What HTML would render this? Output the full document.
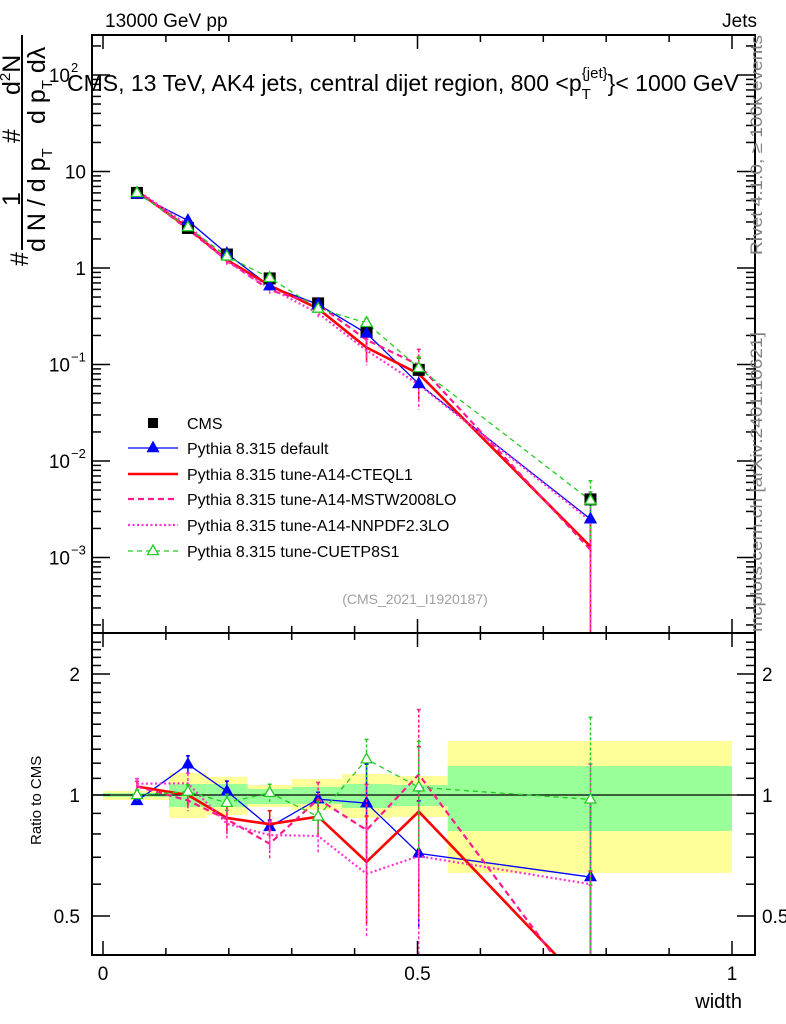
<!DOCTYPE html>
<html><head><meta charset="utf-8">
<style>
html,body{margin:0;padding:0;background:#fff;overflow:hidden;width:786px;height:1024px;}
svg{display:block;font-family:"Liberation Sans",sans-serif;}
</style></head>
<body>
<svg id="chart" width="786" height="1024" viewBox="0 0 786 1024" xmlns="http://www.w3.org/2000/svg">
<defs>
<clipPath id="clipMain"><rect x="92" y="35" width="663" height="598"/></clipPath>
<clipPath id="clipRatio"><rect x="92" y="633" width="663" height="322"/></clipPath>
</defs>
<g id="bands" clip-path="url(#clipRatio)"></g>
<g id="series-main" clip-path="url(#clipMain)"></g>
<g id="series-ratio" clip-path="url(#clipRatio)"></g>
<g id="axes"></g>
<text x="105" y="27" font-size="19">13000 GeV pp</text>
<text x="757" y="27" font-size="19" text-anchor="end">Jets</text>
<text x="67" y="91" font-size="23">CMS, 13 TeV, AK4 jets, central dijet region, 800 &lt;p<tspan font-size="15" dy="8">T</tspan><tspan font-size="15" dy="-21" dx="-9">{jet}</tspan><tspan dy="13">}&lt; 1000 GeV</tspan></text>
<text x="415" y="604" font-size="14" fill="#a0a0a0" text-anchor="middle">(CMS_2021_I1920187)</text>
<text transform="translate(762,255) rotate(-90)" font-size="16.5" fill="#808080" textLength="220" lengthAdjust="spacingAndGlyphs">Rivet 4.1.0, ≥ 100k events</text>
<text transform="translate(762,632) rotate(-90)" font-size="16.5" fill="#808080" textLength="300" lengthAdjust="spacingAndGlyphs">mcplots.cern.ch [arXiv:2401.10621]</text>
<g font-size="25">
<text transform="translate(28,266) rotate(-90)">#</text>
<text transform="translate(20,206) rotate(-90)">1</text>
<text transform="translate(20,143) rotate(-90)">#</text>
<text transform="translate(20,95) rotate(-90)">d<tspan font-size="15" dy="-10">2</tspan><tspan dy="10">N</tspan></text>
<line x1="22" y1="35" x2="22" y2="250" stroke="#000" stroke-width="2"/>
<text transform="translate(45,252) rotate(-90)">d N / d p<tspan font-size="15" dy="7">T</tspan></text>
<text transform="translate(45,124) rotate(-90)">d p<tspan font-size="15" dy="7">T</tspan><tspan dy="-7"> dλ</tspan></text>
</g>
<text transform="translate(41,845) rotate(-90)" font-size="15">Ratio to CMS</text>
<text x="742" y="1008" font-size="20" text-anchor="end">width</text>
<g id="legend"></g>
</svg>
<script>
const xCenters = [0.054, 0.135, 0.197, 0.265, 0.342, 0.419, 0.502, 0.775];
const cmsValues = [6.0, 2.6, 1.38, 0.78, 0.43, 0.22, 0.088, 0.0040];
const defaultValues = [5.8, 3.1, 1.41, 0.65, 0.42, 0.21, 0.063, 0.0025];
const cteqValues = [6.3, 2.6, 1.21, 0.66, 0.38, 0.15, 0.080, 0.0013];
const mstwValues = [6.3, 2.52, 1.2, 0.59, 0.42, 0.18, 0.099, 0.0012];
const nnpdfValues = [6.4, 2.78, 1.17, 0.62, 0.34, 0.14, 0.062, 0.0024];
const cuetValues = [6.0, 2.65, 1.32, 0.79, 0.38, 0.27, 0.092, 0.0039];
const defaultErr = [0.02, 0.05, 0.06, 0.04, 0.04, 0.25, 0.35, 0.6];
const mcErr = [0.03, 0.06, 0.08, 0.08, 0.1, 0.3, 0.45, 0.99];
const cuetErr = [0.03, 0.04, 0.05, 0.05, 0.09, 0.12, 0.3, 0.6];
const binEdges = [0, 0.105, 0.165, 0.23, 0.30, 0.38, 0.46, 0.548, 1.0];
const yellowUp = [1.023, 1.134, 1.11, 1.059, 1.096, 1.128, 1.115, 1.363];
const yellowDn = [0.972, 0.877, 0.892, 0.934, 0.918, 0.877, 0.882, 0.64];
const greenUp = [1.011, 1.065, 1.065, 1.035, 1.047, 1.065, 1.059, 1.18];
const greenDn = [0.989, 0.934, 0.934, 0.95, 0.95, 0.928, 0.939, 0.814];
const mainTicks = [{v:100,l:"10",e:"2"},{v:10,l:"10",e:""},{v:1,l:"1",e:""},{v:0.1,l:"10",e:"−1"},{v:0.01,l:"10",e:"−2"},{v:0.001,l:"10",e:"−3"}];
const ratioTicks = [2, 1, 0.5];
const xTickLabels = [0, 0.5, 1];

const NS = "http://www.w3.org/2000/svg";
const X = v => 103 + 629 * v;
const YM = v => 268 - 96.5 * Math.log10(v);
const YR = r => 795 - 121 * Math.log2(r);
function mk(tag, attrs, parent) {
  const e = document.createElementNS(NS, tag);
  for (const k in attrs) e.setAttribute(k, attrs[k]);
  parent.appendChild(e);
  return e;
}
const bands = document.getElementById('bands');
for (let i = 0; i < binEdges.length - 1; i++) {
  const x0 = X(binEdges[i]), x1 = X(binEdges[i+1]);
  const y = mk('rect', {x:x0, y:YR(yellowUp[i]), width:x1-x0, height:YR(yellowDn[i])-YR(yellowUp[i]), fill:'#ffff99'}, bands);
  
  
  const g = mk('rect', {x:x0, y:YR(greenUp[i]), width:x1-x0, height:YR(greenDn[i])-YR(greenUp[i]), fill:'#99ff99'}, bands);
  
  
}
const rl = mk('line', {x1:92, x2:755, y1:YR(1), y2:YR(1), stroke:'#000', 'stroke-width':1.2}, bands);



const series = [
  {name:'default', vals:defaultValues, err:defaultErr, color:'#0000ff', w:1.3, dash:'', marker:'tri-fill', label:'Pythia 8.315 default'},
  {name:'cteql1', vals:cteqValues, err:mcErr, color:'#ff0000', w:2.6, dash:'', marker:'', label:'Pythia 8.315 tune-A14-CTEQL1'},
  {name:'mstw2008lo', vals:mstwValues, err:mcErr, color:'#ff1a8c', w:2.2, dash:'6,4', marker:'', label:'Pythia 8.315 tune-A14-MSTW2008LO'},
  {name:'nnpdf23lo', vals:nnpdfValues, err:mcErr, color:'#ff33cc', w:2.2, dash:'2,2.5', marker:'', label:'Pythia 8.315 tune-A14-NNPDF2.3LO'},
  {name:'cuetp8s1', vals:cuetValues, err:cuetErr, color:'#22cc22', w:1.3, dash:'5,4', marker:'tri-open', label:'Pythia 8.315 tune-CUETP8S1'}
];
function tri(parent, cx, cy, s, color, filled) {
  return mk('polygon', {points:`${cx},${cy-s} ${cx-s*0.9},${cy+s*0.6} ${cx+s*0.9},${cy+s*0.6}`, fill:filled?color:'#fff', stroke:color, 'stroke-width':1.3}, parent);
}
function drawSeries(parent, s, yf, valueOf, panel) {
  const g = mk('g', {}, parent);
  
  
  let pts = xCenters.map((x, i) => `${X(x)},${yf(valueOf(i))}`).join(' ');
  const pl = mk('polyline', {points:pts, fill:'none', stroke:s.color, 'stroke-width':s.w, 'stroke-dasharray':s.dash}, g);
  
  
  xCenters.forEach((x, i) => {
    const v = valueOf(i), e = s.err[i];
    const lo = Math.max(v * (1 - e), 1e-6), hi = v * (1 + e);
    const eb = mk('line', {x1:X(x), x2:X(x), y1:yf(hi), y2:yf(lo), stroke:s.color, 'stroke-width':1.5, 'stroke-dasharray':s.dash?'3,2':''}, g);
    
    
    mk('line', {x1:X(x)-2, x2:X(x)+2, y1:yf(hi), y2:yf(hi), stroke:s.color, 'stroke-width':1.5}, g);
    if (s.marker) {
      const m = tri(g, X(x), yf(v), 6, s.color, s.marker === 'tri-fill');
      
      
    }
  });
}
const sm = document.getElementById('series-main');
const sr = document.getElementById('series-ratio');
series.forEach(s => {
  drawSeries(sm, s, YM, i => s.vals[i], 'main');
  drawSeries(sr, s, YR, i => s.vals[i] / cmsValues[i], 'ratio');
});
xCenters.forEach((x, i) => {
  const r = mk('rect', {x:X(x)-6, y:YM(cmsValues[i])-6, width:12, height:12, fill:'#000'}, sm);
  
  
});
series.forEach(s => {
  if (!s.marker) return;
  xCenters.forEach((x, i) => {
    const m = tri(sm, X(x), YM(s.vals[i]), 6, s.color, s.marker === 'tri-fill');
    
    
  });
});

const ax = document.getElementById('axes');
[[92,35,663,598],[92,633,663,322]].forEach((f, k) => {
  const r = mk('rect', {x:f[0], y:f[1], width:f[2], height:f[3], fill:'none', stroke:'#000', 'stroke-width':2}, ax);
  
  
});
for (let t = 0; t <= 10; t++) {
  const v = t / 10, x = X(v), L = (t % 5 === 0) ? 14 : 7;
  [[35, 1], [633, 1], [633, -1], [955, -1]].forEach(([y0, d]) => mk('line', {x1:x, x2:x, y1:y0, y2:y0 + d * L, stroke:'#000', 'stroke-width':1.5}, ax));
}
xTickLabels.forEach(v => {
  const t = mk('text', {x:X(v), y:980, 'font-size':19, 'text-anchor':'middle'}, ax);
  t.textContent = String(v);
  
  
});
for (let d = -4; d <= 2; d++) {
  for (let m = 1; m <= 9; m++) {
    const v = m * Math.pow(10, d), y = YM(v);
    if (y < 35 || y > 633) continue;
    const L = m === 1 ? 18 : 9;
    mk('line', {x1:92, x2:92 + L, y1:y, y2:y, stroke:'#000', 'stroke-width':1.5}, ax);
    mk('line', {x1:755, x2:755 - L, y1:y, y2:y, stroke:'#000', 'stroke-width':1.5}, ax);
  }
}
mainTicks.forEach(t => {
  const e = mk('text', {x:t.e ? 70 : 86, y:YM(t.v) + 7, 'font-size':19, 'text-anchor':'end'}, ax);
  e.textContent = t.l;
  
  
  if (t.e) {
    const s = mk('text', {x:71, y:YM(t.v) - 3, 'font-size':13}, ax);
    s.textContent = t.e;
  }
});
for (let v = 0.4; v <= 2.5; v += 0.1) {
  const y = YR(v);
  if (y < 633 || y > 955) continue;
  const major = Math.abs(v - 1) < 1e-6 || Math.abs(v - 2) < 1e-6 || Math.abs(v - 0.5) < 1e-6;
  const L = major ? 18 : 9;
  mk('line', {x1:92, x2:92 + L, y1:y, y2:y, stroke:'#000', 'stroke-width':1.5}, ax);
  mk('line', {x1:755, x2:755 - L, y1:y, y2:y, stroke:'#000', 'stroke-width':1.5}, ax);
}
ratioTicks.forEach(v => {
  const a = mk('text', {x:80, y:YR(v) + 7, 'font-size':19, 'text-anchor':'end'}, ax);
  a.textContent = String(v);
  
  
  const b = mk('text', {x:762, y:YR(v) + 7, 'font-size':19}, ax);
  b.textContent = String(v);
  
  
});

const lg = document.getElementById('legend');
const rowsY = [423, 448, 474, 499, 525, 551];
const c = mk('g', {}, lg);


mk('rect', {x:148, y:rowsY[0]-5, width:10, height:10, fill:'#000'}, c);
const ct = mk('text', {x:187, y:rowsY[0]+6, 'font-size':16}, c);
ct.textContent = 'CMS';
series.forEach((s, i) => {
  const g = mk('g', {}, lg);
  
  
  const y = rowsY[i + 1];
  mk('line', {x1:128, x2:178, y1:y, y2:y, stroke:s.color, 'stroke-width':s.w, 'stroke-dasharray':s.dash}, g);
  if (s.marker) tri(g, 153, y, 6, s.color, s.marker === 'tri-fill');
  const t = mk('text', {x:187, y:y + 6, 'font-size':16}, g);
  t.textContent = s.label;
});
</script>
</body></html>
